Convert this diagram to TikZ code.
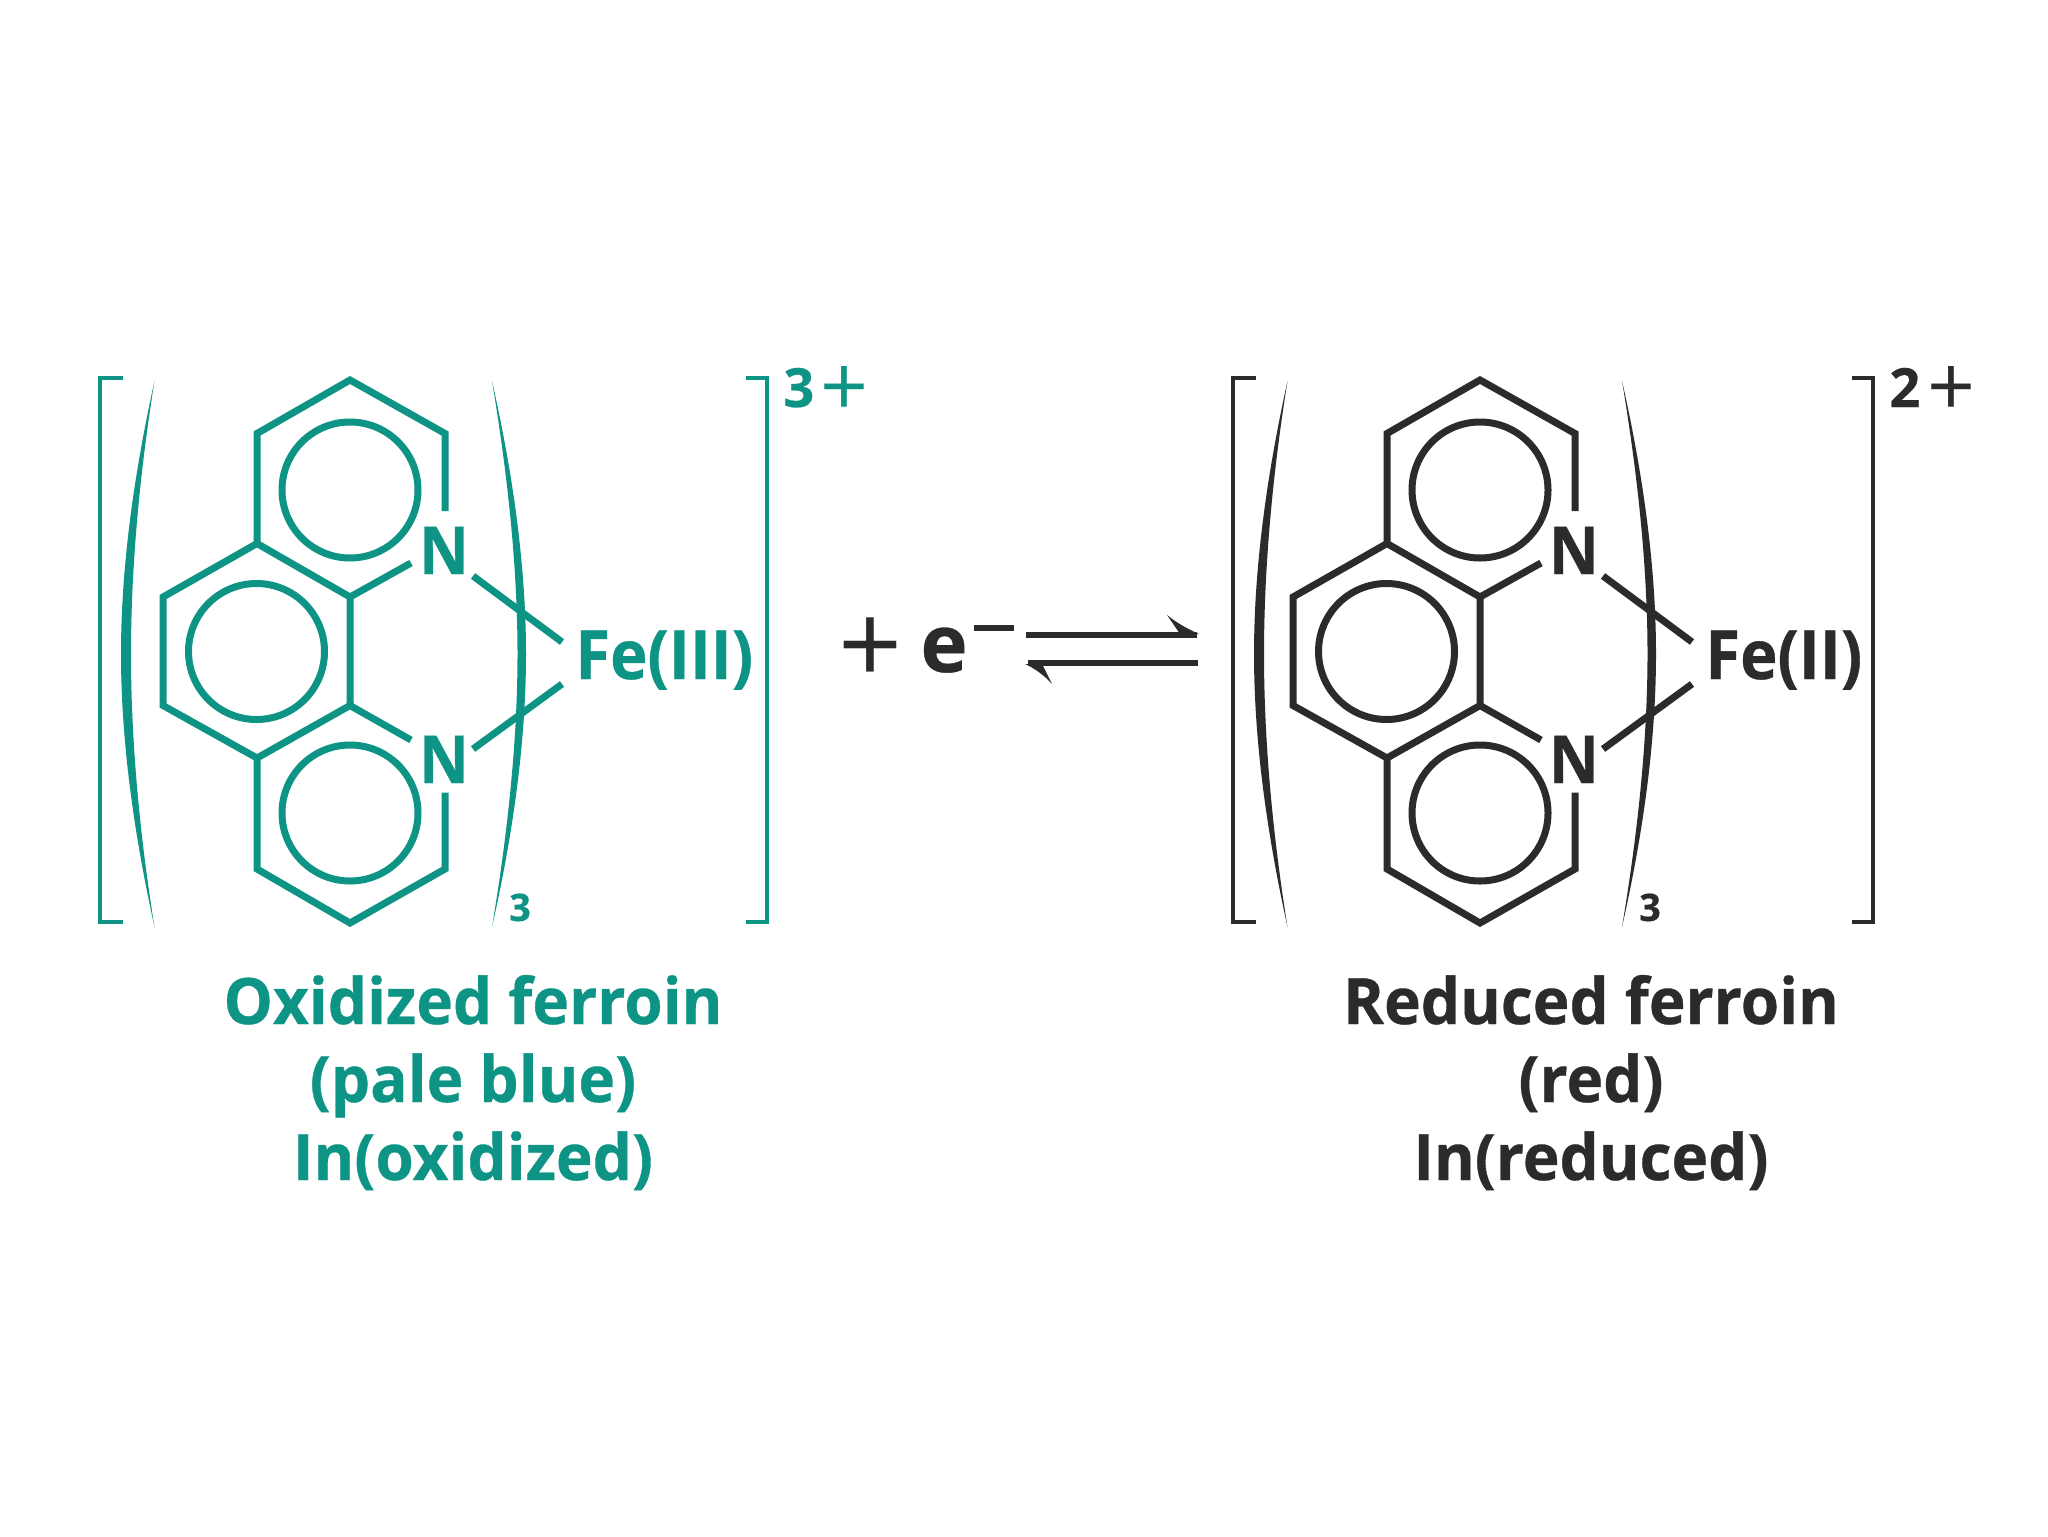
\documentclass[tikz,border=0pt]{standalone}
\usepackage{fontspec}
\setmainfont[BoldFeatures={FakeBold=0.4}]{Open Sans}
\newfontfamily\narrowf[FakeStretch=0.97,BoldFeatures={FakeStretch=0.97,FakeBold=0.5}]{Open Sans}
\newfontfamily\feF[FakeStretch=0.93,BoldFeatures={FakeStretch=0.93,FakeBold=0.5}]{Open Sans}
\definecolor{tealc}{HTML}{0E9485}
\definecolor{darkc}{HTML}{2B2A2C}
\tikzset{
  bond/.style={line width=3.5pt,line join=miter,line cap=butt},
  brk/.style={line width=2.4pt},
  ringc/.style={line width=3.5pt},
  atom/.style={font=\feF\bfseries\fontsize{33}{33}\selectfont,inner sep=0pt,anchor=base},
  lab/.style={font=\narrowf\bfseries\fontsize{32}{32}\selectfont,inner sep=0pt,anchor=base},
  chg/.style={font=\bfseries\fontsize{27}{27}\selectfont,inner sep=0pt,anchor=base west},
  chgp/.style={font=\fontsize{42}{42}\selectfont,inner sep=0pt},
}
% #1 colour, #2 prefix, #3 x shift of rings, #4 x shift of right bracket, #5 charge digit, #6 Fe text, #7 left shift
\newcommand{\ferroin}[7]{%
\begin{scope}[xshift=#3*0.5pt,color=#1]
  \coordinate (#2a) at (350,380);
  \coordinate (#2b) at (445,433.5);
  \coordinate (#2bN) at (445,511);
  \coordinate (#2c) at (257,433.5);
  \coordinate (#2d) at (257,543.5);
  \coordinate (#2e) at (350,597);
  \coordinate (#2eN) at (411,563);
  \coordinate (#2f) at (163,597);
  \coordinate (#2g) at (163,705.5);
  \coordinate (#2h) at (257,758);
  \coordinate (#2i) at (350,705.5);
  \coordinate (#2iN) at (411,740);
  \coordinate (#2j) at (257,869);
  \coordinate (#2k) at (350,923);
  \coordinate (#2l) at (445,869);
  \coordinate (#2lN) at (445,792.5);
  \node[atom] (#2Nt) at (444,574) {N};
  \node[atom] (#2Nb) at (444,783) {N};
  \coordinate (#2Fa) at (473,576);
  \coordinate (#2Fb) at (562,642);
  \coordinate (#2Fc) at (473,749);
  \coordinate (#2Fd) at (562,684);
  \draw[bond] (#2bN) -- (#2b) -- (#2a) -- (#2c) -- (#2d) -- (#2e) -- (#2i) -- (#2h) -- (#2j) -- (#2k) -- (#2l) -- (#2lN);
  \draw[bond] (#2d) -- (#2f) -- (#2g) -- (#2h);
  \draw[bond] (#2eN) -- (#2e);
  \draw[bond] (#2iN) -- (#2i);
  \draw[bond] (#2Fa) -- (#2Fb);
  \draw[bond] (#2Fc) -- (#2Fd);
  \draw[ringc] (350,490) circle (68);
  \draw[ringc] (256.5,651.5) circle (68);
  \draw[ringc] (350,813) circle (68);
  % square brackets
  \draw[brk] (123+#7,378) -- (100+#7,378) -- (100+#7,922) -- (123+#7,922);
  \draw[brk] (746+#4,378) -- (767+#4,378) -- (767+#4,922) -- (746+#4,922);
  % parentheses
  \fill (154.5+#7,381) .. controls (136+#7,465) and (121+#7,560) .. (121+#7,654)
        .. controls (121+#7,748) and (136+#7,843) .. (154.5+#7,927)
        .. controls (141+#7,843) and (131+#7,748) .. (131+#7,654)
        .. controls (131+#7,560) and (141+#7,465) .. (154.5+#7,381) -- cycle;
  \fill (492,381) .. controls (511,465) and (526,560) .. (526,654)
        .. controls (526,748) and (511,843) .. (492,927)
        .. controls (506,843) and (517.5,748) .. (517.5,654)
        .. controls (517.5,560) and (506,465) .. (492,381) -- cycle;
  \node[font=\bfseries\fontsize{19}{19}\selectfont,inner sep=0pt,anchor=base] (#2sub) at (520,921) {3};
  \node[font=\feF\bfseries\fontsize{34}{34}\selectfont,inner sep=0pt,anchor=base west] (#2Fe) at (575,679) {#6};
  \node[chg] (#2q) at (783+#4,407) {#5};
  \node[chgp] (#2p) at (845+#4,391) {+};
\end{scope}}
\begin{document}
\begin{tikzpicture}[x=0.5pt,y=-0.5pt]
  \fill[white] (0,0) rectangle (2048,1536);
  \useasboundingbox (0,0) rectangle (2048,1536);
  \ferroin{tealc}{o}{0}{0}{3}{Fe(III)}{0}
  \ferroin{darkc}{r}{1130}{-24}{2}{Fe(II)}{3}
  \node[lab,text=tealc] (olabA) at (473,1024) {Oxidized ferroin};
  \node[lab,text=tealc] (olabB) at (473,1102) {(pale blue)};
  \node[lab,text=tealc] (olabC) at (473,1180) {In(oxidized)};
  \node[lab,text=darkc] (rlabA) at (1591,1024) {Reduced ferroin};
  \node[lab,text=darkc] (rlabB) at (1591,1102) {(red)};
  \node[lab,text=darkc] (rlabC) at (1591,1180) {In(reduced)};
  % plus, electron
  \node[font=\fontsize{56}{56}\selectfont,text=darkc,inner sep=0pt] (plus) at (871,651) {+};
  \node[font=\bfseries\fontsize{40}{40}\selectfont,text=darkc,inner sep=0pt,anchor=base] (elec) at (944,672) {e};
  \coordinate (m1) at (974,628);
  \coordinate (m2) at (1014,628);
  \draw[darkc,line width=2.6pt] (m1) -- (m2);
  % equilibrium arrows
  \coordinate (a1) at (1026,635);
  \coordinate (a2) at (1197,635);
  \coordinate (b1) at (1198,663);
  \coordinate (b2) at (1028,663);
  \draw[darkc,line width=2.8pt] (a1) -- (a2);
  \draw[darkc,line width=2.8pt] (b1) -- (b2);
  \fill[darkc] (1199,634) .. controls (1190,630) and (1178,624) .. (1167,615) -- (1180,634) -- cycle;
  \fill[darkc] (1025,664) .. controls (1034,668) and (1044,675) .. (1052,684) -- (1042,664) -- cycle;
\end{tikzpicture}
\end{document}
